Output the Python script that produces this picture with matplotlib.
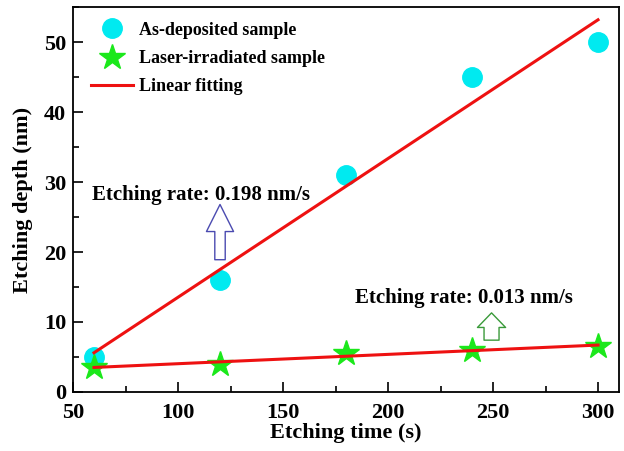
import numpy as np
import matplotlib
matplotlib.use("Agg")
import matplotlib.pyplot as plt
from matplotlib.ticker import MultipleLocator

# data
etch_time = [60, 120, 180, 240, 300]
depth_as_dep = [5, 16, 31, 45, 50]
depth_laser = [3.5, 4, 5.5, 6, 6.5]

plt.rcParams['font.family'] = ['Liberation Serif', 'DejaVu Serif']
plt.rcParams['font.weight'] = 'bold'

fig = plt.figure(figsize=(6.24, 4.51), dpi=100)
ax = fig.add_axes([0.117, 0.131, 0.875, 0.853])

# linear fits
t = np.array(etch_time)
fit_a = np.polyfit(t, depth_as_dep, 1)
fit_l = np.polyfit(t, depth_laser, 1)

ax.plot(etch_time, depth_as_dep, 'o', color='#00eaf0', markersize=14,
        label='As-deposited sample', zorder=2)
ax.plot(etch_time, depth_laser, '*', color='#1be81b', markersize=19,
        label='Laser-irradiated sample', zorder=2)
ax.plot(t, np.polyval(fit_a, t), color='#ee1111', lw=2.2,
        label='Linear fitting', zorder=3)
ax.plot(t, np.polyval(fit_l, t), color='#ee1111', lw=2.2, zorder=3)

ax.set_xlim(50, 310)
ax.set_ylim(0, 55)
ax.xaxis.set_major_locator(MultipleLocator(50))
ax.xaxis.set_minor_locator(MultipleLocator(25))
ax.yaxis.set_major_locator(MultipleLocator(10))
ax.yaxis.set_minor_locator(MultipleLocator(5))
ax.tick_params(which='major', direction='in', length=7, width=1.2,
               labelsize=16)
ax.tick_params(axis='x', which='major', pad=8)
ax.tick_params(axis='y', which='major', pad=5)
ax.tick_params(which='minor', direction='in', length=4, width=1.2)
for lab in ax.get_xticklabels() + ax.get_yticklabels():
    lab.set_fontweight('bold')
for s in ax.spines.values():
    s.set_linewidth(1.3)

ax.set_xlabel('Etching time (s)', fontsize=16, fontweight='bold', labelpad=0)
ax.set_ylabel('Etching depth (nm)', fontsize=16, fontweight='bold', labelpad=8)

ax.legend(loc='upper left', frameon=False,
          prop={'weight': 'bold', 'size': 13},
          handlelength=2.3, handletextpad=0.35, labelspacing=0.62,
          borderaxespad=0.3, bbox_to_anchor=(0.01, 0.995))

# rate annotations
ax.text(59, 28.1, 'Etching rate: 0.198 nm/s', fontsize=15,
        fontweight='bold', va='center', ha='left')
ax.annotate('', xy=(120, 26.8), xytext=(120, 18.9),
            arrowprops=dict(arrowstyle='simple,head_length=1.3,head_width=1.3,tail_width=0.5',
                            mutation_scale=15, fc='white', ec='#4a4ab0', lw=1,
                            shrinkA=0, shrinkB=0))
ax.text(184.5, 13.4, 'Etching rate: 0.013 nm/s', fontsize=15,
        fontweight='bold', va='center', ha='left')
ax.annotate('', xy=(249.3, 11.3), xytext=(249.3, 7.4),
            arrowprops=dict(arrowstyle='simple,head_length=0.7,head_width=1.35,tail_width=0.72',
                            mutation_scale=15, fc='white', ec='#3a9a3a', lw=1,
                            shrinkA=0, shrinkB=0))

plt.savefig('out.png', dpi=100)
